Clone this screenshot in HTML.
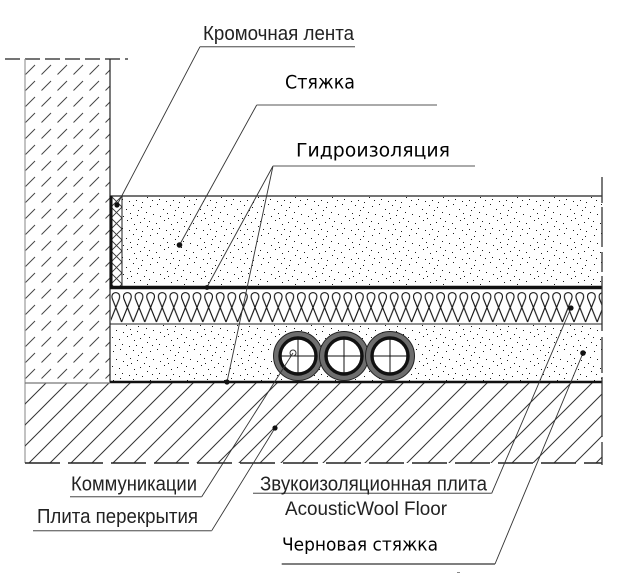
<!DOCTYPE html>
<html><head><meta charset="utf-8"><style>
html,body{margin:0;padding:0;background:#fff;}
svg{display:block;}
</style></head><body>
<svg width="622" height="586" viewBox="0 0 622 586" xmlns="http://www.w3.org/2000/svg">
<defs>
  <pattern id="stA" patternUnits="userSpaceOnUse" width="37" height="29">
    <g fill="#1a1a1a">
      <rect x="2" y="3" width="1" height="1"/><rect x="9" y="1" width="1" height="1"/>
      <rect x="15" y="6" width="1" height="1"/><rect x="22" y="2" width="1" height="1"/>
      <rect x="30" y="4" width="1" height="1"/><rect x="35" y="9" width="1" height="1"/>
      <rect x="5" y="11" width="1" height="1"/><rect x="12" y="13" width="1" height="1"/>
      <rect x="19" y="10" width="1" height="1"/><rect x="26" y="12" width="1" height="1"/>
      <rect x="33" y="15" width="1" height="1"/><rect x="1" y="18" width="1" height="1"/>
      <rect x="8" y="20" width="1" height="1"/><rect x="16" y="17" width="1" height="1"/>
      <rect x="23" y="21" width="1" height="1"/><rect x="29" y="19" width="1" height="1"/>
      <rect x="36" y="23" width="1" height="1"/><rect x="4" y="26" width="1" height="1"/>
      <rect x="11" y="25" width="1" height="1"/><rect x="18" y="27" width="1" height="1"/>
      <rect x="25" y="26" width="1" height="1"/><rect x="31" y="28" width="1" height="1"/>
      <rect x="27" y="7" width="1" height="1"/><rect x="20" y="15" width="1" height="1"/>
    </g>
  </pattern>
  <pattern id="wallH" patternUnits="userSpaceOnUse" width="16" height="16" x="25" y="59">
    <line x1="0.5" y1="15.5" x2="10" y2="6" stroke="#444" stroke-width="1"/>
  </pattern>
  <pattern id="slabH" patternUnits="userSpaceOnUse" width="21" height="21" x="25" y="383">
    <line x1="0" y1="21" x2="21" y2="0" stroke="#333" stroke-width="1"/>
    <line x1="-2" y1="2" x2="2" y2="-2" stroke="#333" stroke-width="1"/>
    <line x1="19" y1="23" x2="23" y2="19" stroke="#333" stroke-width="1"/>
  </pattern>
  <pattern id="xh" patternUnits="userSpaceOnUse" width="11" height="11" x="111" y="196">
    <path d="M0,0 L11,11 M11,0 L0,11" stroke="#333" stroke-width="0.9" fill="none"/>
  </pattern>
  <pattern id="wool" patternUnits="userSpaceOnUse" width="11.6" height="35" x="110" y="289">
    <path d="M0,33 L9.2,10 C12.2,1.5 -0.6,1.5 2.4,10 L11.6,33" stroke="#111" stroke-width="1.1" fill="none"/>
  </pattern>
</defs>

<!-- top dashed line -->
<line x1="5" y1="59" x2="128" y2="59" stroke="#222" stroke-width="1.3" stroke-dasharray="15 5"/>

<!-- wall -->
<rect x="25" y="59" width="85" height="324" fill="url(#wallH)"/>
<line x1="25" y1="59" x2="25" y2="463" stroke="#999" stroke-width="1.2"/>
<line x1="110" y1="59" x2="110" y2="383" stroke="#222" stroke-width="1.2"/>

<!-- slab -->
<rect x="25" y="383" width="577" height="80" fill="url(#slabH)"/>
<line x1="25" y1="383" x2="110" y2="383" stroke="#777" stroke-width="1.2"/>
<line x1="25" y1="463" x2="602" y2="463" stroke="#222" stroke-width="1.6" stroke-dasharray="35 8"/>

<!-- upper screed -->
<rect x="122" y="197" width="480" height="89" fill="url(#stA)"/>
<line x1="110" y1="196" x2="602" y2="196" stroke="#222" stroke-width="1.2"/>
<!-- edge tape -->
<rect x="112" y="197" width="10" height="89" fill="url(#xh)"/>
<line x1="122" y1="196" x2="122" y2="287" stroke="#222" stroke-width="1"/>
<line x1="111" y1="196" x2="111" y2="289" stroke="#111" stroke-width="3"/>
<line x1="110" y1="287.5" x2="602" y2="287.5" stroke="#111" stroke-width="3.5"/>

<!-- insulation -->
<rect x="111" y="289" width="491" height="35" fill="url(#wool)"/>
<line x1="110" y1="324" x2="602" y2="324" stroke="#222" stroke-width="1.1"/>

<!-- lower screed -->
<rect x="111" y="325" width="491" height="56" fill="url(#stA)"/>
<line x1="110" y1="382" x2="602" y2="382" stroke="#111" stroke-width="2.4"/>

<!-- pipes -->
<g>
  <circle cx="298" cy="356" r="24.5" fill="#6e6e6e" stroke="#222" stroke-width="1"/>
  <circle cx="298" cy="356" r="18" fill="#fff" stroke="#111" stroke-width="3.4"/>
  <path d="M281.5,356 H314.5 M298,339.5 V372.5" stroke="#111" stroke-width="1"/>
  <circle cx="344" cy="356" r="24.5" fill="#6e6e6e" stroke="#222" stroke-width="1"/>
  <circle cx="344" cy="356" r="18" fill="#fff" stroke="#111" stroke-width="3.4"/>
  <path d="M327.5,356 H360.5 M344,339.5 V372.5" stroke="#111" stroke-width="1"/>
  <circle cx="390" cy="356" r="24.5" fill="#6e6e6e" stroke="#222" stroke-width="1"/>
  <circle cx="390" cy="356" r="18" fill="#fff" stroke="#111" stroke-width="3.4"/>
  <path d="M373.5,356 H406.5 M390,339.5 V372.5" stroke="#111" stroke-width="1"/>
  <circle cx="293" cy="353" r="3" fill="#fff" stroke="#333" stroke-width="1"/>
</g>

<!-- right boundary -->
<line x1="602" y1="177" x2="602" y2="465" stroke="#333" stroke-width="1.3" stroke-dasharray="26 4 40 5 20 4 55 6 36 4 60 5 80"/>

<!-- leaders -->
<g stroke="#333" stroke-width="0.9" fill="none">
  <line x1="200" y1="46.7" x2="117" y2="205"/>
  <line x1="256.7" y1="105" x2="179.5" y2="245"/>
  <line x1="273" y1="166" x2="207" y2="287"/>
  <line x1="273" y1="166" x2="227" y2="382"/>
  <line x1="201.7" y1="496.7" x2="293" y2="353"/>
  <line x1="211.7" y1="530.7" x2="275" y2="428"/>
  <line x1="491.7" y1="493.3" x2="571" y2="308"/>
  <line x1="495" y1="564" x2="583" y2="353"/>
</g>
<!-- underlines -->
<g stroke="#777" stroke-width="1.3">
  <line x1="200" y1="46.7" x2="355" y2="46.7"/>
  <line x1="256.7" y1="105" x2="437" y2="105"/>
  <line x1="273" y1="166" x2="475" y2="166"/>
  <line x1="70" y1="496.7" x2="201.7" y2="496.7"/>
  <line x1="33" y1="530.7" x2="211.7" y2="530.7"/>
  <line x1="253" y1="493.3" x2="491.7" y2="493.3"/>
  <line x1="281.7" y1="564" x2="495" y2="564" stroke="#333"/>
</g>
<!-- dots -->
<g fill="#111">
  <circle cx="117" cy="205" r="2.6"/>
  <circle cx="179.5" cy="245" r="2.8"/>
  <circle cx="207" cy="287.5" r="2.4"/>
  <circle cx="227" cy="382" r="2.6"/>
  <circle cx="275" cy="428" r="2.6"/>
  <circle cx="571" cy="308" r="2.6"/>
  <circle cx="583" cy="353" r="2.8"/>
</g>
<rect x="457" y="572" width="3" height="1" fill="#888"/>

<!-- labels -->
<g font-family="'Liberation Sans', Arial, sans-serif" fill="#222" font-size="20.5">
  <text x="203" y="40" textLength="151" lengthAdjust="spacingAndGlyphs">Кромочная лента</text>
  <text x="71" y="490.5" textLength="126" lengthAdjust="spacingAndGlyphs">Коммуникации</text>
  <text x="37" y="523" textLength="161" lengthAdjust="spacingAndGlyphs">Плита перекрытия</text>
  <text x="260" y="490.5" textLength="227" lengthAdjust="spacingAndGlyphs">Звукоизоляционная плита</text>
  <text x="285" y="515" font-size="19" textLength="162" lengthAdjust="spacingAndGlyphs">AcousticWool Floor</text>
</g>
<g font-family="'DejaVu Sans', 'Liberation Sans', sans-serif" fill="#000">
  <text x="285" y="88.3" font-size="19" textLength="70" lengthAdjust="spacingAndGlyphs">Стяжка</text>
  <text x="296" y="156.5" font-size="19" textLength="154" lengthAdjust="spacingAndGlyphs">Гидроизоляция</text>
  <text x="282" y="550.5" font-size="18" textLength="156" lengthAdjust="spacingAndGlyphs">Черновая стяжка</text>
</g>
</svg>
</body></html>
